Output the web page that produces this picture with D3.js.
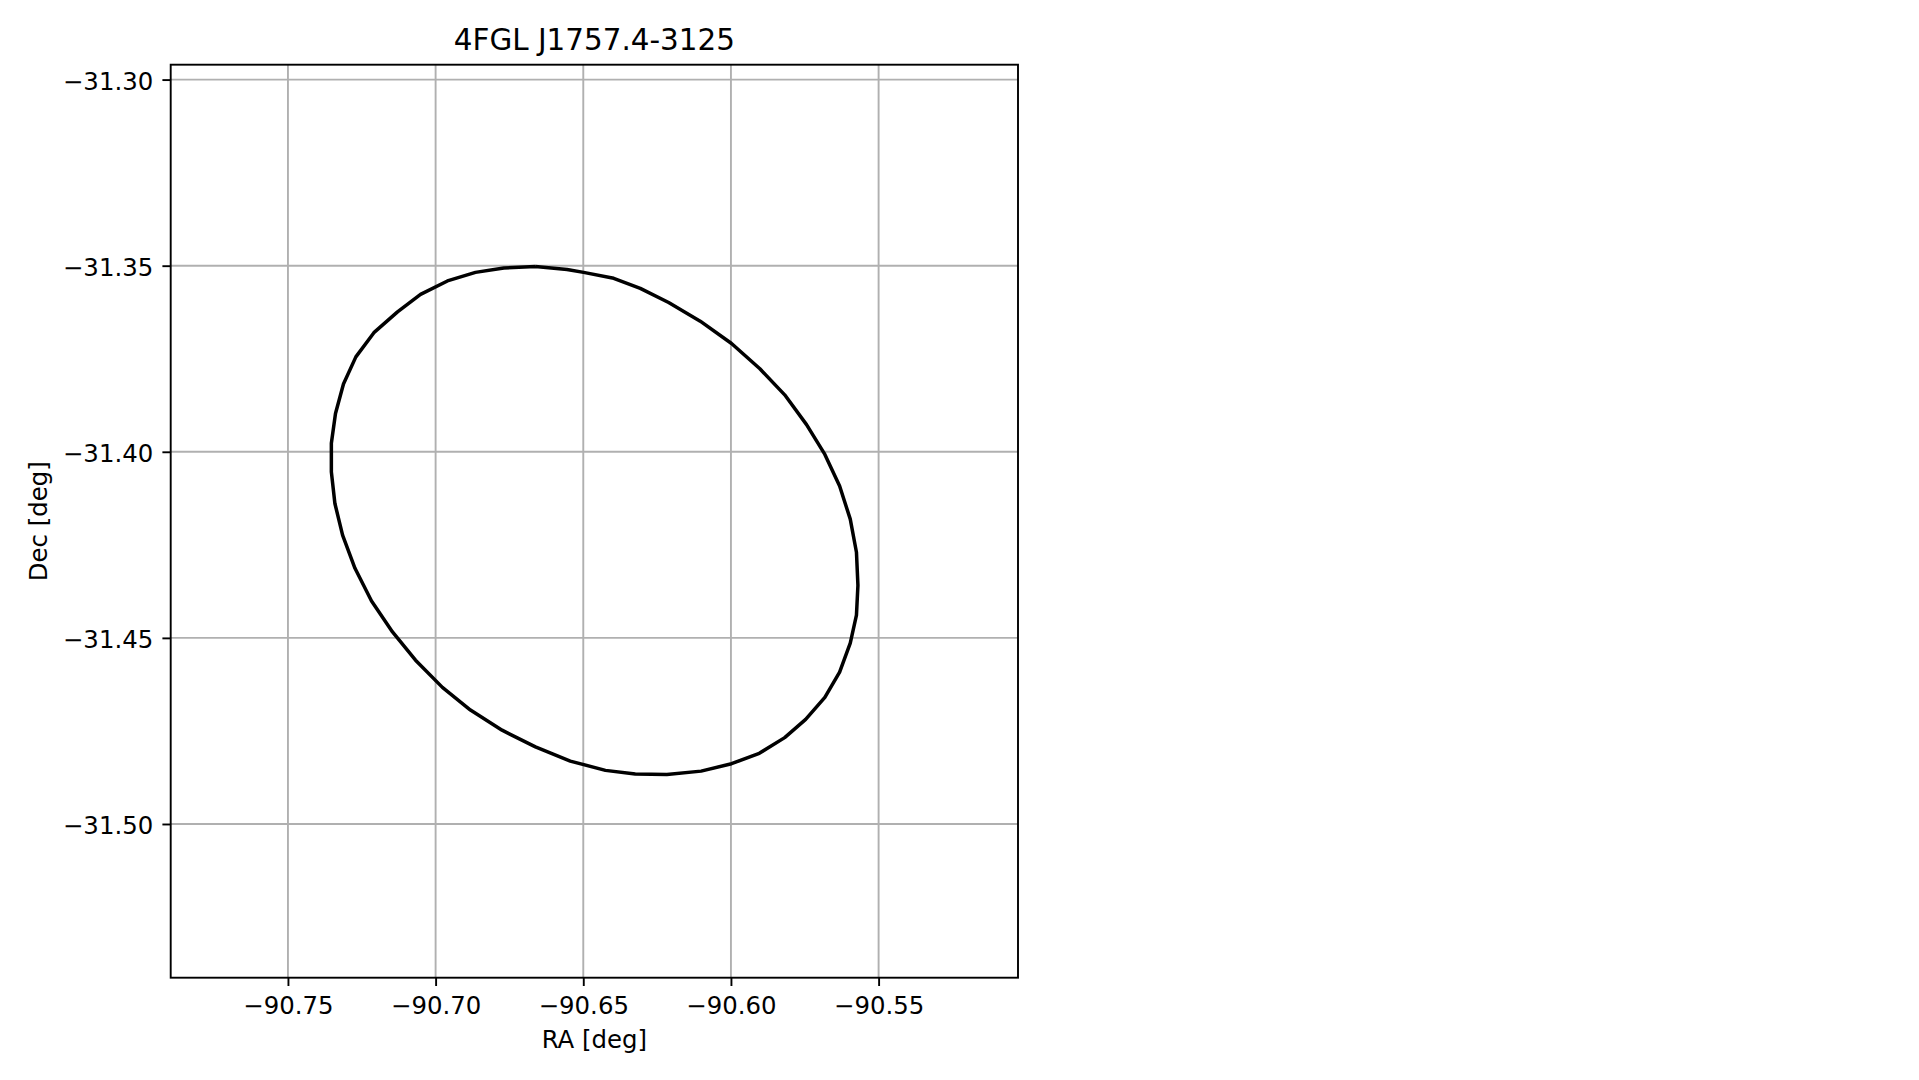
<!DOCTYPE html>
<html>
<head>
<meta charset="utf-8">
<script src="https://cdn.jsdelivr.net/npm/d3@7"></script>
<style>
  html, body { margin: 0; padding: 0; background: #fff; }
  svg { display: block; }
  text { font-family: "DejaVu Sans", sans-serif; fill: #000; }
</style>
</head>
<body>
<svg id="chart" width="1919" height="1080"></svg>
<script>
// ---- data ----
const title = "4FGL J1757.4-3125";
const xLabel = "RA [deg]";
const yLabel = "Dec [deg]";
const xTicks = [-90.75, -90.70, -90.65, -90.60, -90.55];
const yTicks = [-31.30, -31.35, -31.40, -31.45, -31.50];
const xDomain = [-90.7897, -90.5028];
const yDomain = [-31.5413, -31.2960];

const raValues = [
  -90.6662, -90.6555, -90.6499, -90.6397, -90.6307, -90.6211, -90.6104, -90.5998,
  -90.5902, -90.5818, -90.5744, -90.5682, -90.5632, -90.5596, -90.5575, -90.5570,
  -90.5575, -90.5596, -90.5632, -90.5682, -90.5747, -90.5818, -90.5904, -90.5998,
  -90.6101, -90.6217, -90.6324, -90.6425, -90.6544, -90.6662, -90.6775, -90.6882,
  -90.6977, -90.7068, -90.7146, -90.7217, -90.7273, -90.7315, -90.7341, -90.7353,
  -90.7353, -90.7339, -90.7312, -90.7270, -90.7209, -90.7129, -90.7051, -90.6960,
  -90.6865, -90.6769, -90.6662
];
const decValues = [
  -31.3502, -31.3510, -31.3518, -31.3534, -31.3561, -31.3599, -31.3649, -31.3709,
  -31.3777, -31.3847, -31.3927, -31.4007, -31.4092, -31.4181, -31.4270, -31.4359,
  -31.4439, -31.4514, -31.4592, -31.4660, -31.4719, -31.4768, -31.4810, -31.4838,
  -31.4858, -31.4867, -31.4866, -31.4856, -31.4831, -31.4793, -31.4748, -31.4694,
  -31.4633, -31.4560, -31.4484, -31.4401, -31.4313, -31.4224, -31.4139, -31.4054,
  -31.3977, -31.3897, -31.3818, -31.3745, -31.3680, -31.3624, -31.3577, -31.3541,
  -31.3518, -31.3506, -31.3502
];

// ---- layout ----
const L = 170.7, R = 1018, T = 64.7, B = 977.7;
const tickFont = 24.4, titleFont = 29.4;
const lw = 1.9;

const svg = d3.select("#chart");
const x = d3.scaleLinear().domain(xDomain).range([L, R]);
const y = d3.scaleLinear().domain(yDomain).range([B, T]);
const fmt = v => d3.format(".2f")(v).replace("-", "\u2212");

// grid
const grid = svg.append("g");
grid.selectAll("line.gx").data(xTicks).join("line")
  .attr("x1", d => x(d)).attr("x2", d => x(d))
  .attr("y1", T).attr("y2", B)
  .attr("stroke", "#b0b0b0").attr("stroke-width", lw);
grid.selectAll("line.gy").data(yTicks).join("line")
  .attr("x1", L).attr("x2", R)
  .attr("y1", d => y(d)).attr("y2", d => y(d))
  .attr("stroke", "#b0b0b0").attr("stroke-width", lw);

// ellipse
const pts = raValues.map((r, i) => [r, decValues[i]]);
const line = d3.line().x(d => x(d[0])).y(d => y(d[1]));
svg.append("path").datum(pts)
  .attr("d", line)
  .attr("fill", "none")
  .attr("stroke", "#000")
  .attr("stroke-width", 3.5)
  .attr("stroke-linejoin", "round");

// spines
svg.append("rect")
  .attr("x", L).attr("y", T).attr("width", R - L).attr("height", B - T)
  .attr("fill", "none").attr("stroke", "#000").attr("stroke-width", lw);

// axes
const xAxis = svg.append("g").attr("transform", `translate(0,${B})`)
  .call(d3.axisBottom(x).tickValues(xTicks).tickFormat(fmt).tickSize(8.3).tickPadding(8.3));
const yAxis = svg.append("g").attr("transform", `translate(${L},0)`)
  .call(d3.axisLeft(y).tickValues(yTicks).tickFormat(fmt).tickSize(8.3).tickPadding(8.3));
[xAxis, yAxis].forEach(g => {
  g.select(".domain").remove();
  g.selectAll(".tick line").attr("stroke", "#000").attr("stroke-width", lw);
  g.selectAll(".tick text")
    .style("font-family", "'DejaVu Sans', sans-serif")
    .style("font-size", tickFont + "px")
    .attr("fill", "#000");
});
xAxis.selectAll(".tick text").attr("dy", null).attr("y", 36.3);
yAxis.selectAll(".tick text").attr("dy", "0.40em").attr("x", -17.5);

// labels
svg.append("text")
  .attr("x", (L + R) / 2).attr("y", 1048)
  .attr("text-anchor", "middle")
  .style("font-size", tickFont + "px")
  .text(xLabel);
svg.append("text")
  .attr("transform", `translate(46.5,${(T + B) / 2}) rotate(-90)`)
  .attr("text-anchor", "middle")
  .style("font-size", tickFont + "px")
  .text(yLabel);
svg.append("text")
  .attr("x", (L + R) / 2).attr("y", 49.6)
  .attr("text-anchor", "middle")
  .style("font-size", titleFont + "px")
  .text(title);
</script>
</body>
</html>
